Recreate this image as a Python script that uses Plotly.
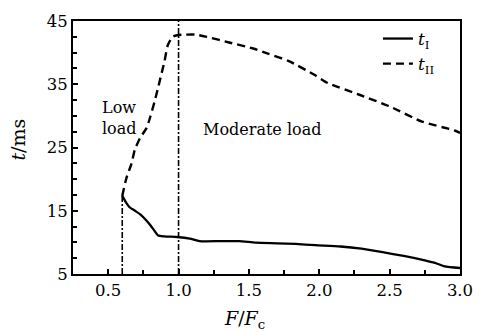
import plotly.graph_objects as go

# Load ratio F/Fc and the two response times (ms)
f_t1 = [0.60, 0.63, 0.65, 0.69, 0.73, 0.77, 0.80, 0.83, 0.855, 0.90, 0.99, 1.08, 1.15, 1.30, 1.43, 1.55, 1.70, 1.83, 1.97, 2.15, 2.30, 2.45, 2.60, 2.75, 2.83, 2.89, 3.00]
t1 = [17.35, 16.2, 15.6, 15.0, 14.4, 13.5, 12.7, 11.8, 11.1, 10.95, 10.85, 10.6, 10.2, 10.2, 10.2, 9.95, 9.85, 9.75, 9.55, 9.35, 9.0, 8.45, 7.85, 7.15, 6.7, 6.2, 5.95]

f_t2 = [0.60, 0.63, 0.665, 0.69, 0.727, 0.773, 0.797, 0.83, 0.854, 0.877, 0.90, 0.924, 0.958, 0.99, 1.05, 1.12, 1.20, 1.36, 1.53, 1.64, 1.78, 1.965, 2.06, 2.29, 2.50, 2.73, 2.96, 3.00]
t2 = [17.35, 20.2, 22.4, 24.7, 26.5, 28.1, 29.7, 32.3, 34.4, 36.5, 38.6, 41.2, 42.5, 42.75, 42.85, 42.85, 42.5, 41.6, 40.65, 39.8, 38.7, 36.5, 35.2, 33.3, 31.5, 29.1, 27.7, 27.3]

# Boundaries between load regimes
low_boundary_x = [0.6, 0.6]
low_boundary_y = [5, 17.35]
moderate_boundary_x = [1.0, 1.0]
moderate_boundary_y = [5, 45]

x_ticks = [0.5, 1.0, 1.5, 2.0, 2.5, 3.0]
x_tick_text = ["0.5", "1.0", "1.5", "2.0", "2.5", "3.0"]
y_ticks = [5, 15, 25, 35, 45]
y_tick_text = ["5", "15", "25", "35", "45"]

FONT = "DejaVu Serif"

fig = go.Figure()

fig.add_trace(go.Scatter(
    x=low_boundary_x, y=low_boundary_y, mode="lines", showlegend=False,
    line=dict(color="black", width=1.6, dash="6px,2px,2px,2px"), hoverinfo="skip"))
fig.add_trace(go.Scatter(
    x=moderate_boundary_x, y=moderate_boundary_y, mode="lines", showlegend=False,
    line=dict(color="black", width=1.6, dash="6px,2px,2px,2px"), hoverinfo="skip"))

fig.add_trace(go.Scatter(
    x=f_t1, y=t1, mode="lines", name="<i>t</i><sub>I</sub>",
    line=dict(color="black", width=2.3, shape="spline", smoothing=0.6)))
fig.add_trace(go.Scatter(
    x=f_t2, y=t2, mode="lines", name="<i>t</i><sub>II</sub>",
    line=dict(color="black", width=2.4, dash="8px,5px", shape="spline", smoothing=0.6)))

axis_common = dict(
    showline=True, linecolor="black", linewidth=2, mirror=True,
    ticks="inside", ticklen=5, tickwidth=1.5, tickcolor="black",
    showgrid=False, zeroline=False, ticklabeloverflow="allow",
    tickfont=dict(family=FONT, size=16.5, color="black"),
)

fig.update_xaxes(
    range=[0.25, 3.0], tickvals=x_ticks, ticktext=x_tick_text,
    minor=dict(ticks="inside", ticklen=4, tickwidth=1.5, tickcolor="black",
               tickvals=[0.75, 1.25, 1.75, 2.25, 2.75]),
    **axis_common)
fig.update_yaxes(
    range=[5, 45], tickvals=y_ticks, ticktext=y_tick_text,
    minor=dict(ticks="inside", ticklen=4, tickwidth=1.5, tickcolor="black",
               tickvals=[7.5, 10, 12.5, 17.5, 20, 22.5, 27.5, 30, 32.5, 37.5, 40, 42.5]),
    **axis_common)

fig.update_layout(
    width=485, height=332,
    margin=dict(l=73, r=13, t=19, b=58),
    plot_bgcolor="white", paper_bgcolor="white",
    font=dict(family=FONT, size=16, color="black"),
    legend=dict(x=0.788, y=1.0, xanchor="left", yanchor="top",
                bgcolor="rgba(0,0,0,0)", font=dict(family=FONT, size=17),
                tracegroupgap=0, itemwidth=30),
    annotations=[
        dict(text="Low<br>load", x=0.12, y=0.616, xref="paper", yref="paper",
             showarrow=False, align="left", xanchor="center", yanchor="middle",
             font=dict(family=FONT, size=16)),
        dict(text="Moderate load", x=0.489, y=0.573, xref="paper", yref="paper",
             showarrow=False, xanchor="center", yanchor="middle",
             font=dict(family=FONT, size=16)),
        dict(text="<i>t</i>/ms", x=-0.143, y=0.53, xref="paper", yref="paper",
             showarrow=False, textangle=-90, xanchor="center", yanchor="middle",
             font=dict(family=FONT, size=19)),
        dict(text="<i>F</i>/<i>F</i><sub>c</sub>", x=0.444, y=-0.178, xref="paper", yref="paper",
             showarrow=False, xanchor="center", yanchor="middle",
             font=dict(family=FONT, size=19)),
    ],
)

fig.write_html("out.html")
